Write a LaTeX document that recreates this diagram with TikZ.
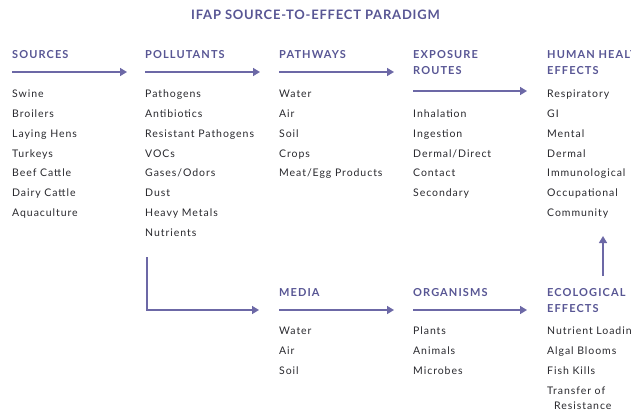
\documentclass[tikz,border=0pt]{standalone}
\usepackage{fontspec}
\setmainfont{Lato}
\usetikzlibrary{arrows.meta}
\definecolor{ifapviolet}{RGB}{88,86,148}
\definecolor{ifaparrow}{RGB}{108,104,166}
\definecolor{ifaptext}{RGB}{40,40,45}
\tikzset{
  title/.style={anchor=base, inner sep=0pt, text=ifapviolet,
    font=\fontsize{13}{15}\selectfont\bfseries\addfontfeature{LetterSpace=6}},
  head/.style={anchor=base west, inner sep=0pt, align=left, text=ifapviolet,
    font=\fontsize{11}{16}\selectfont\bfseries\addfontfeature{LetterSpace=10}},
  item/.style={anchor=base west, inner sep=0pt, text=ifaptext,
    font=\fontsize{10.5}{12}\selectfont\addfontfeature{LetterSpace=9}},
  flow/.style={draw=ifaparrow, line width=1.5pt,
    -{Triangle[length=7pt,width=8pt]}}
}
\begin{document}
\begin{tikzpicture}[x=1pt,y=-1pt]
  \useasboundingbox (0,0) rectangle (631,416);
  \clip (0,0) rectangle (631,416);

  \node[title] (ttl) at (315.5,19) {IFAP SOURCE-TO-EFFECT PARADIGM};

  % headings, top row (two-line ones sit on their last line)
  \node[head] (hsrc) at (12,58.5) {SOURCES};
  \node[head] (hpol) at (145,58.5) {POLLUTANTS};
  \node[head] (hpath) at (279,58.5) {PATHWAYS};
  \node[head] (hexp) at (413,74.5) {EXPOSURE\\ROUTES};
  \node[head] (hhum) at (547,74.5) {HUMAN HEALTH\\EFFECTS};
  % headings, bottom row
  \node[head] (hmed) at (279,296.5) {MEDIA};
  \node[head] (horg) at (413,296.5) {ORGANISMS};
  \node[head] (heco) at (547,312.5) {ECOLOGICAL\\EFFECTS};

  % lists
  \foreach \t [count=\i from 0] in {Swine,Broilers,Laying Hens,Turkeys,Beef Cattle,Dairy Cattle,Aquaculture}
    \node[item] (src\i) at (12,97.5+19.85*\i) {\t};
  \foreach \t [count=\i from 0] in {Pathogens,Antibiotics,Resistant Pathogens,VOCs,Gases/Odors,Dust,Heavy Metals,Nutrients}
    \node[item] (pol\i) at (145,97.5+19.85*\i) {\t};
  \foreach \t [count=\i from 0] in {Water,Air,Soil,Crops,Meat/Egg Products}
    \node[item] (path\i) at (279,97.5+19.85*\i) {\t};
  \foreach \t [count=\i from 0] in {Inhalation,Ingestion,Dermal/Direct,Contact,Secondary}
    \node[item] (exp\i) at (413,117.3+19.85*\i) {\t};
  \foreach \t [count=\i from 0] in {Respiratory,GI,Mental,Dermal,Immunological,Occupational,Community}
    \node[item] (hum\i) at (547,97.5+19.85*\i) {\t};
  \foreach \t [count=\i from 0] in {Water,Air,Soil}
    \node[item] (med\i) at (279,334.5+20*\i) {\t};
  \foreach \t [count=\i from 0] in {Plants,Animals,Microbes}
    \node[item] (org\i) at (413,334.5+20*\i) {\t};
  \foreach \t [count=\i from 0] in {Nutrient Loading,Algal Blooms,Fish Kills,Transfer of}
    \node[item] (eco\i) at (547,334.5+20*\i) {\t};
  \node[item] (eco4) at (554,409.5) {Resistance};

  % arrows
  \foreach \n/\xa/\xb/\yy in {a1/12/127/72, a2/145/260/72, a3/279/394/72, a4/413/527/91,
                              b1/279/394/310, b2/413/527/310} {
    \coordinate (\n-s) at (\xa,\yy);
    \coordinate (\n-e) at (\xb,\yy);
    \draw[flow] (\n-s) -- (\n-e);
  }
  \coordinate (drop) at (147,257);
  \coordinate (bend) at (147,310);
  \coordinate (dropend) at (259,310);
  \draw[flow] (drop) -- (bend) -- (dropend);
  \coordinate (up-s) at (603,276);
  \coordinate (up-e) at (603,236);
  \draw[flow] (up-s) -- (up-e);
\end{tikzpicture}
\end{document}
